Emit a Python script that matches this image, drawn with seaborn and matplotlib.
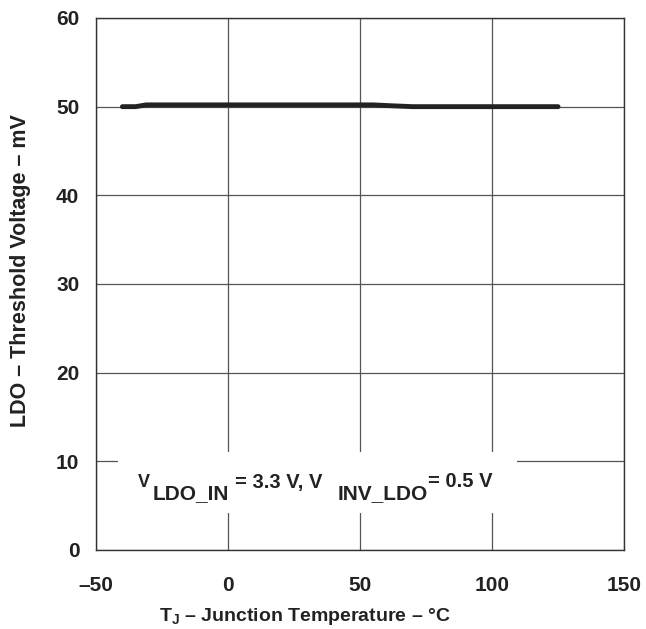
import matplotlib
matplotlib.use("Agg")
import matplotlib.pyplot as plt
from matplotlib.patches import Rectangle
import pandas as pd
import seaborn as sns

# junction temperature (degC) and LDO threshold voltage (mV)
temp_c = [-40, -35, -31, 0, 25, 55, 62, 70, 100, 125]
threshold_mv = [50.0, 50.0, 50.2, 50.2, 50.2, 50.2, 50.1, 50.0, 50.0, 50.0]

x_ticks = [-50, 0, 50, 100, 150]
x_tick_labels = ["\u201350", "0", "50", "100", "150"]
y_ticks = [0, 10, 20, 30, 40, 50, 60]

# condition note: (text, font size, x, baseline y) in data units
note_pieces = [
    ("V", 13, -34.1, 7.1),
    ("LDO_IN", 15, -28.4, 5.75),
    ("= 3.3 V, V", 14.5, 2.6, 7.0),
    ("INV_LDO", 15, 41.7, 5.75),
    ("= 0.5 V", 14.5, 75.8, 7.1),
]

sns.set_style("white")
plt.rcParams["font.family"] = ["Liberation Sans", "DejaVu Sans"]
plt.rcParams["font.weight"] = "bold"
plt.rcParams["mathtext.fontset"] = "custom"
plt.rcParams["mathtext.rm"] = "Liberation Sans:bold"
plt.rcParams["mathtext.it"] = "Liberation Sans:bold"
plt.rcParams["mathtext.bf"] = "Liberation Sans:bold"

df = pd.DataFrame({"temp": temp_c, "vth": threshold_mv})

fig = plt.figure(figsize=(6.46, 6.29), dpi=100)
ax = fig.add_axes([0.1486, 0.1256, 0.8174, 0.8458])

sns.lineplot(data=df, x="temp", y="vth", ax=ax, color="#222222", linewidth=3.5,
             solid_capstyle="round", zorder=3)

ax.set_xlim(-50, 150)
ax.set_ylim(0, 60)
ax.set_xticks(x_ticks)
ax.set_xticklabels(x_tick_labels)
ax.set_yticks(y_ticks)
ax.tick_params(axis="both", length=0, labelsize=15, colors="#222222")
ax.tick_params(axis="x", pad=19)
ax.tick_params(axis="y", pad=12)
for lbl in ax.get_xticklabels() + ax.get_yticklabels():
    lbl.set_fontweight("bold")

ax.grid(True, color="#555555", linewidth=0.9)
ax.set_axisbelow(True)
for s in ax.spines.values():
    s.set_color("#333333")
    s.set_linewidth(1.0)

ax.set_xlabel("T$_{J}$ \u2013 Junction Temperature \u2013 \u00b0C",
              fontsize=14, fontweight="bold", color="#222222")
ax.xaxis.set_label_coords(0.396, -0.106)
ax.set_ylabel("LDO \u2013 Threshold Voltage \u2013 mV", fontsize=15.5, fontweight="bold",
              color="#222222")
ax.yaxis.set_label_coords(-0.124, 0.526)

# white patch that hides the grid behind the note
ax.add_patch(Rectangle((-41.7, 4.2), 151.2, 6.85, facecolor="white", edgecolor="none", zorder=2))
for txt, size, tx, ty in note_pieces:
    ax.text(tx, ty, txt, fontsize=size, fontweight="bold", color="#222222",
            va="baseline", ha="left", zorder=4)

fig.savefig("out.png", dpi=100)
